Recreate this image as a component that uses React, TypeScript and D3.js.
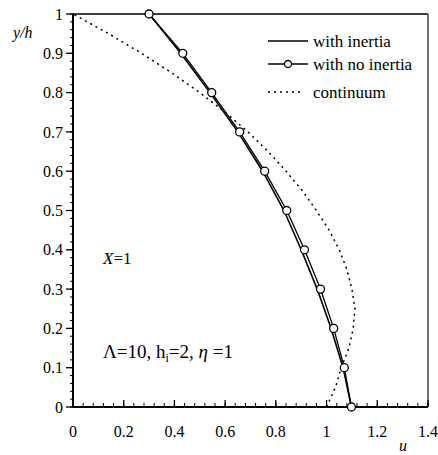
import React from "react";
import * as d3 from "d3";

const yLevels = [0, 0.1, 0.2, 0.3, 0.4, 0.5, 0.6, 0.7, 0.8, 0.9, 1.0];
const uInertia = [1.098, 1.065, 1.018, 0.963, 0.9, 0.832, 0.748, 0.65, 0.54, 0.425, 0.3];
const uNoInertia = [1.098, 1.07, 1.028, 0.976, 0.913, 0.843, 0.756, 0.657, 0.547, 0.433, 0.3];
const yContinuum = [0, 0.05, 0.1, 0.15, 0.2, 0.25, 0.3, 0.35, 0.4, 0.45, 0.5, 0.55, 0.6, 0.65, 0.7, 0.75, 0.8, 0.85, 0.9, 0.95, 1.0];
const uContinuum = [1.0, 1.035, 1.058, 1.088, 1.105, 1.112, 1.1, 1.08, 1.05, 1.01, 0.96, 0.905, 0.84, 0.77, 0.69, 0.6, 0.5, 0.39, 0.27, 0.14, 0];
const xTickLabels = [0, 0.2, 0.4, 0.6, 0.8, 1, 1.2, 1.4];
const yTickLabels = [0, 0.1, 0.2, 0.3, 0.4, 0.5, 0.6, 0.7, 0.8, 0.9, 1];
const legendLabels = ["with inertia", "with no inertia", "continuum"];

const W = 438, H = 455;
const L = 73, R = 428, T = 14, B = 407;
const FONT = "Liberation Serif, Times New Roman, DejaVu Serif, serif";

export default function App() {
  const x = d3.scaleLinear().domain([0, 1.4]).range([L, R]);
  const y = d3.scaleLinear().domain([0, 1]).range([B, T]);
  const line = d3.line<[number, number]>().x(d => x(d[0])).y(d => y(d[1]));
  const inertiaPts = yLevels.map((v, i) => [uInertia[i], v] as [number, number]);
  const noInertiaPts = yLevels.map((v, i) => [uNoInertia[i], v] as [number, number]);
  const contPts = yContinuum.map((v, i) => [uContinuum[i], v] as [number, number]);

  const xMinor = d3.range(0, 36).map(i => i * 0.04).filter(v => v <= 1.4001);
  const yMinor = d3.range(0, 51).map(i => i * 0.02);

  const legY = [41, 64, 92];
  return (
    <svg width={W} height={H} style={{ position: "absolute", left: 0, top: 0, background: "#fff", fontFamily: FONT }}>
      <rect x={0} y={0} width={W} height={H} fill="#fff" />
      {/* frame */}
      <line x1={L} y1={T} x2={R} y2={T} stroke="#000" strokeWidth={1.5} />
      <line x1={R} y1={T} x2={R} y2={B} stroke="#444" strokeWidth={1.5} />
      {/* continuum */}
      <path d={line(contPts) || ""} fill="none" stroke="#000" strokeWidth={1.5} strokeDasharray="2,4" />
      {/* with inertia */}
      <path d={line(inertiaPts) || ""} fill="none" stroke="#000" strokeWidth={1.6} />
      {/* no inertia */}
      <path d={line(noInertiaPts) || ""} fill="none" stroke="#000" strokeWidth={1.3} />
      {/* axes */}
      <line x1={L} y1={T} x2={L} y2={B} stroke="#000" strokeWidth={2} />
      <line x1={L} y1={B} x2={R} y2={B} stroke="#000" strokeWidth={2} />
      {yMinor.map((v, i) => (
        <line key={"ym" + i} x1={L - 3} x2={L + 1} y1={y(v)} y2={y(v)} stroke="#000" strokeWidth={1} />
      ))}
      {yTickLabels.map((v, i) => (
        <g key={"yt" + i}>
          <line x1={L - 7} x2={L} y1={y(v)} y2={y(v)} stroke="#000" strokeWidth={1.3} />
          <text x={L - 10} y={y(v)} dy="0.35em" textAnchor="end" fontSize={16} style={{ fontFamily: FONT }}>{String(v)}</text>
        </g>
      ))}
      {xMinor.map((v, i) => (
        <line key={"xm" + i} x1={x(v)} x2={x(v)} y1={B} y2={B - 4} stroke="#000" strokeWidth={1} />
      ))}
      {xTickLabels.map((v, i) => (
        <g key={"xt" + i}>
          <line x1={x(v)} x2={x(v)} y1={B} y2={B - 7} stroke="#000" strokeWidth={1.3} />
          <text x={x(v)} y={B + 30} textAnchor="middle" fontSize={16} style={{ fontFamily: FONT }}>{String(v)}</text>
        </g>
      ))}
      {noInertiaPts.map((p, i) => (
        <circle key={"c" + i} cx={x(p[0])} cy={y(p[1])} r={4} fill="#fff" stroke="#000" strokeWidth={1.3} />
      ))}
      {/* axis titles */}
      <text x={13} y={38} fontSize={16} fontStyle="italic" style={{ fontFamily: FONT }}>y/h</text>
      <text x={399} y={451} fontSize={16} fontStyle="italic" style={{ fontFamily: FONT }}>u</text>
      {/* annotations */}
      <text x={103} y={264} fontSize={17} style={{ fontFamily: FONT }}><tspan fontStyle="italic">X</tspan>=1</text>
      <text x={103} y={358} fontSize={19} style={{ fontFamily: FONT }}>
        Λ=10, h<tspan fontSize={12} dy="4">i</tspan><tspan dy="-4">=2, </tspan><tspan fontStyle="italic">η</tspan> =1
      </text>
      {/* legend */}
      <line x1={268} x2={308} y1={legY[0]} y2={legY[0]} stroke="#000" strokeWidth={1.5} />
      <line x1={268} x2={308} y1={legY[1]} y2={legY[1]} stroke="#000" strokeWidth={1.3} />
      <circle cx={288} cy={legY[1]} r={3.5} fill="#fff" stroke="#000" strokeWidth={1.3} />
      <line x1={268} x2={304} y1={legY[2]} y2={legY[2]} stroke="#000" strokeWidth={1.5} strokeDasharray="2,4" />
      {legendLabels.map((t, i) => (
        <text key={t} x={313} y={legY[i]} dy="0.33em" fontSize={17} style={{ fontFamily: FONT }}>{t}</text>
      ))}
    </svg>
  );
}
